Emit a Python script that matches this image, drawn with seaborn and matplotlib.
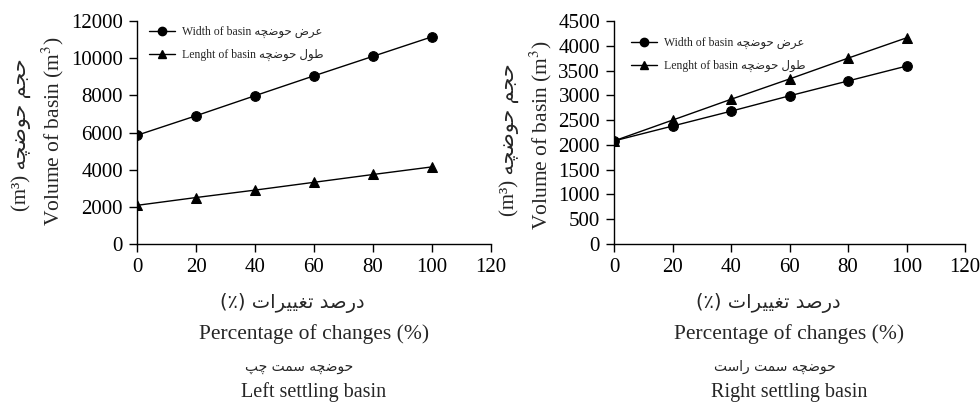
import matplotlib
matplotlib.use("Agg")
import matplotlib.pyplot as plt
import seaborn as sns
import pandas as pd
from matplotlib.lines import Line2D

# ---------------- data ----------------
pct = [0, 20, 40, 60, 80, 100]
left_width = [5850, 6900, 7980, 9050, 10100, 11150]
left_length = [2080, 2500, 2900, 3320, 3740, 4150]
right_width = [2080, 2380, 2680, 2990, 3290, 3590]
right_length = [2080, 2500, 2920, 3330, 3750, 4160]
left_yticks = [0, 2000, 4000, 6000, 8000, 10000, 12000]
right_yticks = [0, 500, 1000, 1500, 2000, 2500, 3000, 3500, 4000, 4500]
xticks = [0, 20, 40, 60, 80, 100, 120]

# ------------- minimal Persian shaping -------------
FORMS = {
    'ا': ('\uFE8D', '\uFE8E', None, None),
    'پ': ('\uFB56', '\uFB57', '\uFB58', '\uFB59'),
    'ت': ('\uFE95', '\uFE96', '\uFE97', '\uFE98'),
    'ج': ('\uFE9D', '\uFE9E', '\uFE9F', '\uFEA0'),
    'چ': ('\uFB7A', '\uFB7B', '\uFB7C', '\uFB7D'),
    'ح': ('\uFEA1', '\uFEA2', '\uFEA3', '\uFEA4'),
    'د': ('\uFEA9', '\uFEAA', None, None),
    'ر': ('\uFEAD', '\uFEAE', None, None),
    'س': ('\uFEB1', '\uFEB2', '\uFEB3', '\uFEB4'),
    'ص': ('\uFEB9', '\uFEBA', '\uFEBB', '\uFEBC'),
    'ض': ('\uFEBD', '\uFEBE', '\uFEBF', '\uFEC0'),
    'ط': ('\uFEC1', '\uFEC2', '\uFEC3', '\uFEC4'),
    'ع': ('\uFEC9', '\uFECA', '\uFECB', '\uFECC'),
    'غ': ('\uFECD', '\uFECE', '\uFECF', '\uFED0'),
    'ل': ('\uFEDD', '\uFEDE', '\uFEDF', '\uFEE0'),
    'م': ('\uFEE1', '\uFEE2', '\uFEE3', '\uFEE4'),
    'ه': ('\uFEE9', '\uFEEA', '\uFEEB', '\uFEEC'),
    'و': ('\uFEED', '\uFEEE', None, None),
    'ی': ('\uFBFC', '\uFBFD', '\uFBFE', '\uFBFF'),
}


def shape(s):
    out = []
    for i, c in enumerate(s):
        if c not in FORMS:
            out.append(c)
            continue
        prev = s[i - 1] if i > 0 else None
        nxt = s[i + 1] if i + 1 < len(s) else None
        jp = prev in FORMS and FORMS[prev][2] is not None
        jn = FORMS[c][2] is not None and nxt in FORMS
        iso, fin, ini, med = FORMS[c]
        if jp and jn:
            out.append(med)
        elif jp:
            out.append(fin)
        elif jn:
            out.append(ini)
        else:
            out.append(iso)
    return ''.join(out)


def rtl(s):
    return shape(s)[::-1]


FAM = ['Liberation Serif', 'DejaVu Sans']
FA = ['DejaVu Sans']

sns.set_theme(style="ticks")
plt.rcParams['font.family'] = FAM
plt.rcParams['mathtext.fontset'] = 'stix'

fig = plt.figure(figsize=(9.8, 4.03), dpi=100)
ax1 = fig.add_axes([137 / 980, 1 - 244 / 403, 354 / 980, 223 / 403])
ax2 = fig.add_axes([614 / 980, 1 - 244 / 403, 351 / 980, 223 / 403])

leg_w = "Width of basin " + rtl("عرض حوضچه")
leg_l = "Lenght of basin " + rtl("طول حوضچه")


def draw(ax, width, length, yticks, legpos, fa_title, en_title, ylab_pos, fa_shift):
    df = pd.DataFrame({
        'pct': pct * 2,
        'vol': width + length,
        'series': ['w'] * len(pct) + ['l'] * len(pct),
    })
    sns.lineplot(data=df, x='pct', y='vol', style='series', markers={'w': 'o', 'l': '^'},
                 dashes=False, color='black', linewidth=1.0, markersize=7,
                 markeredgecolor='black', ax=ax, legend=False)
    ax.set_xlim(0, 120)
    ax.set_ylim(0, yticks[-1])
    ax.set_xticks(xticks)
    ax.set_yticks(yticks)
    ax.set_xlabel('')
    ax.set_ylabel('')
    for s in ['top', 'right']:
        ax.spines[s].set_visible(False)
    for s in ['left', 'bottom']:
        ax.spines[s].set_color('black')
        ax.spines[s].set_linewidth(1.0)
    ax.tick_params(axis='both', direction='out', length=6, width=1.0, color='black',
                   labelsize=15, labelcolor='black', pad=4)
    for lab in ax.get_xticklabels() + ax.get_yticklabels():
        lab.set_family('Liberation Serif')
    handles = [
        Line2D([], [], color='black', marker='o', markersize=6, linewidth=1.0),
        Line2D([], [], color='black', marker='^', markersize=6, linewidth=1.0),
    ]
    ax.legend(handles, [leg_w, leg_l], loc='upper left', bbox_to_anchor=legpos,
              frameon=False, prop={'family': FAM, 'size': 8.5}, handlelength=2.2,
              labelspacing=0.95, handletextpad=0.6, borderaxespad=0)
    # x labels
    ax.text(0.5 + fa_shift, -0.265, "(٪) " + rtl("درصد تغییرات"), transform=ax.transAxes,
            ha='center', va='center', fontsize=14, family=FA)
    ax.text(0.5, -0.405, "Percentage of changes (%)", transform=ax.transAxes,
            ha='center', va='center', fontsize=15.5, family=FAM)
    ax.text(0.5 + fa_shift * 0.7, -0.55, fa_title, transform=ax.transAxes,
            ha='center', va='center', fontsize=10, family=FA)
    ax.text(0.5, -0.665, en_title, transform=ax.transAxes,
            ha='center', va='center', fontsize=14.5, family=FAM)
    # y labels
    ex, fx, ey, fy = ylab_pos
    ax.text(ex, ey, "Volume of basin (m$^{3}$)", transform=ax.transAxes, rotation=90,
            ha='center', va='center', fontsize=15.5, family=FAM)
    ax.text(fx, fy, "(m³) " + rtl("حجم حوضچه"), transform=ax.transAxes, rotation=90,
            ha='center', va='center', fontsize=15, family=FAM)


draw(ax1, left_width, left_length, left_yticks, (0.02, 1.0),
     rtl("حوضچه سمت چپ"), "Left settling basin", (-0.237, -0.328, 0.507, 0.49), -0.06)
draw(ax2, right_width, right_length, right_yticks, (0.035, 0.95),
     rtl("حوضچه سمت راست"), "Right settling basin", (-0.209, -0.30, 0.49, 0.466), -0.06)

fig.savefig("out.png", dpi=100)
